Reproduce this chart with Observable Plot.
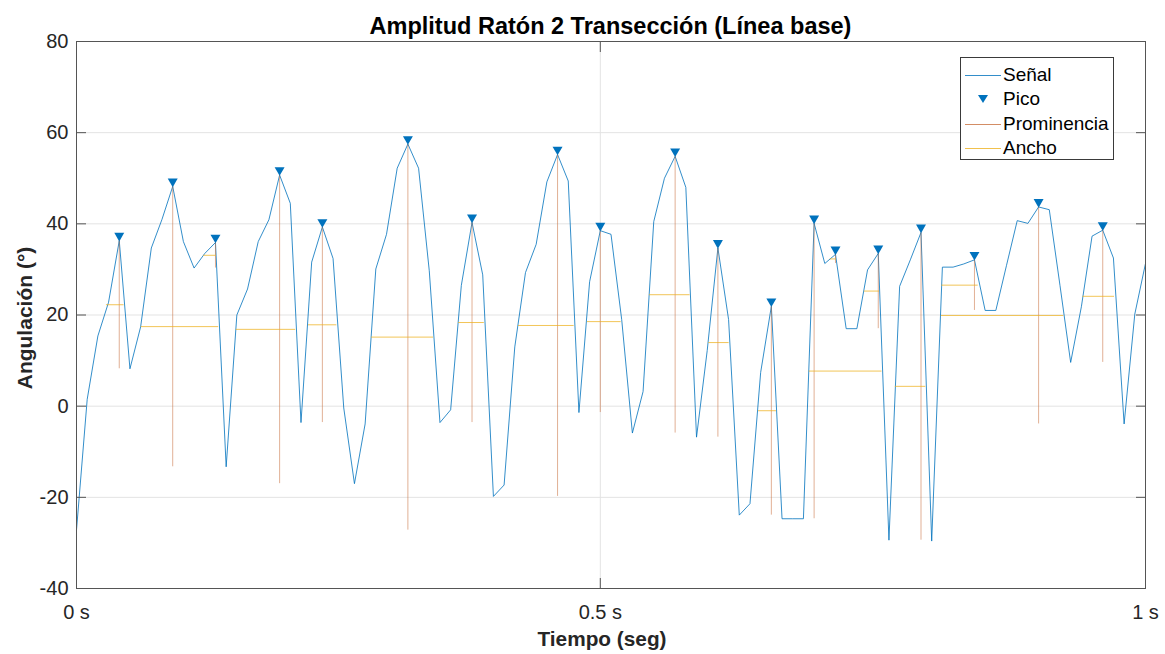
<!DOCTYPE html>
<html><head><meta charset="utf-8">
<script src="https://cdn.jsdelivr.net/npm/d3@7"></script>
<script src="https://cdn.jsdelivr.net/npm/@observablehq/plot@0.6"></script>
<style>
html,body{margin:0;padding:0;background:#fff;}
#wrap{position:relative;width:1165px;height:654px;font-family:"Liberation Sans",Arial,sans-serif;color:#262626;overflow:hidden;}
#chart{position:absolute;left:0;top:0;}
#title{position:absolute;left:76px;width:1069px;top:13px;text-align:center;font-weight:bold;font-size:23.5px;line-height:26px;color:#000;white-space:nowrap;}
#xlabel{position:absolute;left:402px;width:400px;top:627px;text-align:center;font-weight:bold;font-size:20.8px;line-height:24px;color:#262626;}
#ylabel{position:absolute;left:25px;top:318px;width:300px;text-align:center;font-weight:bold;font-size:21px;line-height:24px;color:#262626;transform:translate(-50%,-50%) rotate(-90deg);white-space:nowrap;}
#legend{position:absolute;left:960px;top:57px;width:152px;height:101px;border:1px solid #3a3a3a;background:#fff;font-size:19px;color:#000;}
.row{position:absolute;left:0;height:24px;width:152px;}
.row svg{position:absolute;left:4px;top:0;}
.row span{position:absolute;left:42px;top:0;line-height:24px;}
</style></head><body>
<div id="wrap">
<div id="chart"></div>
<div id="title">Amplitud Ratón 2 Transección (Línea base)</div>
<div id="xlabel">Tiempo (seg)</div>
<div id="ylabel">Angulación (°)</div>
<div id="legend"></div>
</div>
<script>
// Signal samples (degrees), uniformly sampled
const signal = [
 -27.2, 1.5, 15.4, 22.8, 36.3, 8.2, 17.4, 34.7, 41.0, 48.2,
 36.1, 30.3, 33.5, 35.9, -13.3, 20.0, 25.7, 36.1, 40.9, 50.7,
 44.5, -3.6, 31.6, 39.3, 32.4, -0.4, -17.0, -3.9, 30.1, 37.7,
 52.2, 57.5, 52.2, 29.7, -3.6, -0.8, 26.5, 40.3, 28.8, -19.8,
 -17.3, 13.0, 29.3, 35.5, 49.2, 55.2, 49.4, -1.4, 27.3, 38.5,
 37.7, 19.0, -5.9, 3.2, 40.5, 50.0, 54.8, 48.0, -6.8, 12.2,
 34.7, 19.0, -23.9, -21.4, 7.4, 21.9, -24.7, -24.7, -24.7, 40.1,
 31.3, 33.3, 17.0, 17.0, 29.9, 33.5, -29.4, 26.3, 32.1, 38.1,
 -29.6, 30.5, 30.5, 31.2, 32.1, 21.0, 21.0, 30.9, 40.7, 40.1,
 43.7, 43.1, 26.5, 9.6, 21.8, 37.3, 38.6, 32.5, -3.9, 20.2,
 31.3
];
// Peaks (sample index), prominence base, width extents (sample index)
const peakIdx = [4, 9, 13, 19, 23, 31, 37, 45, 49, 56, 60, 65, 69, 71, 75, 79, 84, 90, 96];
const promBase = [8.2, -13.3, 30.3, -17.0, -3.6, -27.2, -3.6, -19.8, -1.4, -5.9, -6.8, -23.9, -24.7, 31.3, 17.0, -29.4, 21.0, -3.9, 9.6];
const widthLeft = [2.8, 6.05, 11.9, 14.95, 21.7, 27.6, 35.75, 41.35, 47.8, 53.6, 59.15, 63.8, 68.55, 70.5, 73.7, 76.6, 80.95, 80.9, 94.15];
const widthRight = [4.45, 13.3, 13.07, 20.5, 24.35, 33.4, 38.15, 46.55, 50.95, 57.4, 61.05, 65.48, 75.35, 71.06, 75.12, 79.45, 84.35, 92.35, 97.1];
// Axes
const yTicks = [-40, -20, 0, 20, 40, 60, 80];
const xTickPos = [0, 49, 100];
const xTickLabels = ["0 s", "0.5 s", "1 s"];
// Legend
const legendItems = ["Señal", "Pico", "Prominencia", "Ancho"];
const colors = {signal: "#0072BD", prom: "#C8703E", width: "#EDB120"};

const sig = signal.map((v, i) => ({i, v}));
const peaks = peakIdx.map((p, k) => ({
  x: p, y: signal[p], base: promBase[k],
  half: (signal[p] + promBase[k]) / 2,
  x1: widthLeft[k], x2: widthRight[k]
}));

const chart = Plot.plot({
  width: 1165, height: 654,
  marginLeft: 76, marginRight: 20, marginTop: 41, marginBottom: 66,
  style: {fontFamily: '"Liberation Sans", Arial, sans-serif', fontSize: "20px", color: "#262626", background: "transparent"},
  x: {domain: [0, 100]},
  y: {domain: [-40, 80]},
  marks: [
    Plot.gridY(yTicks, {stroke: "#e3e3e3", strokeOpacity: 1}),
    Plot.gridX([xTickPos[1]], {stroke: "#e3e3e3", strokeOpacity: 1}),
    Plot.line(sig, {x: "i", y: "v", stroke: colors.signal, strokeWidth: 1, strokeOpacity: 0.8}),
    Plot.ruleX(peaks, {x: "x", y1: "y", y2: "base", stroke: colors.prom, strokeWidth: 1, strokeOpacity: 0.55}),
    Plot.ruleY(peaks, {y: "half", x1: "x1", x2: "x2", stroke: colors.width, strokeWidth: 1, strokeOpacity: 0.75}),
    Plot.dot(peaks, {x: "x", y: "y", symbol: "triangle", rotate: 180, r: 3.7, fill: colors.signal, stroke: "none", dy: -5}),
    Plot.frame({stroke: "#555", strokeWidth: 1}),
    Plot.axisY(yTicks, {anchor: "left", tickSize: -10, tickPadding: 18, tickFormat: d => String(d), label: null, stroke: "#555", fill: "#262626"}),
    Plot.axisY(yTicks, {anchor: "right", tickSize: -10, tickFormat: () => "", label: null, stroke: "#555"}),
    Plot.axisX(xTickPos, {anchor: "bottom", tickSize: -10, tickPadding: 26, tickFormat: d => xTickLabels[xTickPos.indexOf(d)], label: null, stroke: "#555", fill: "#262626"}),
    Plot.axisX(xTickPos, {anchor: "top", tickSize: -10, tickFormat: () => "", label: null, stroke: "#555"})
  ]
});
document.getElementById("chart").appendChild(chart);

// Legend (HTML)
const leg = document.getElementById("legend");
const rowTops = [5, 29, 54, 78];
legendItems.forEach((name, k) => {
  const row = document.createElement("div");
  row.className = "row";
  row.style.top = rowTops[k] + "px";
  let sw;
  if (k === 1) {
    sw = `<svg width="36" height="24"><path d="M13,8 L23,8 L18,16 Z" fill="${colors.signal}"/></svg>`;
  } else {
    const c = k === 0 ? colors.signal : k === 2 ? colors.prom : colors.width;
    sw = `<svg width="36" height="24"><line x1="0" x2="36" y1="12.5" y2="12.5" stroke="${c}" stroke-width="1" stroke-opacity="0.8"/></svg>`;
  }
  row.innerHTML = sw + `<span>${name}</span>`;
  leg.appendChild(row);
});
</script>
</body></html>
